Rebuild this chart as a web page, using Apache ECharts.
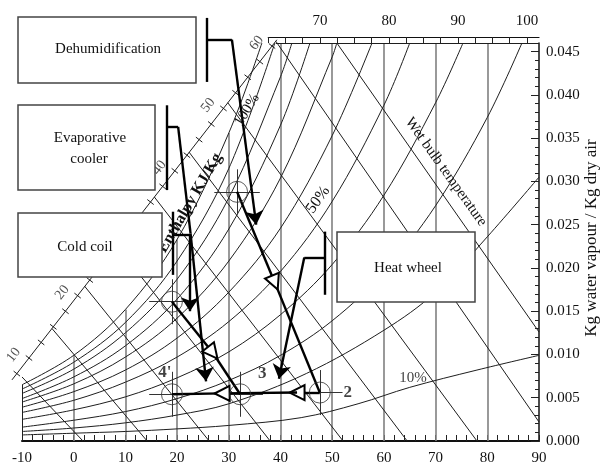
<!DOCTYPE html>
<html>
<head>
<meta charset="utf-8">
<script src="https://cdn.jsdelivr.net/npm/echarts@6/dist/echarts.min.js"></script>
<style>
  html, body { margin: 0; background: #fff; }
  #chart { width: 602px; height: 469px; }
</style>
</head>
<body>
<div id="chart"></div>
<script>
// relative humidity curves, [dry bulb °C, kg water / kg dry air]
const rh100 = [[-10, 0.0065], [0, 0.0099], [10, 0.0152], [20, 0.0233], [30, 0.0356], [36.4, 0.046]];
const rh90 = [[-10, 0.0060], [0, 0.0091], [10, 0.0137], [20, 0.0208], [30, 0.0315], [38.9, 0.046]];
const rh80 = [[-10, 0.0055], [0, 0.0083], [10, 0.0125], [20, 0.0187], [30, 0.0281], [40, 0.0421], [42.2, 0.046]];
const rh70 = [[-10, 0.0049], [0, 0.0074], [10, 0.0110], [20, 0.0164], [30, 0.0245], [40, 0.0365], [45.7, 0.046]];
const rh60 = [[-10, 0.0045], [0, 0.0066], [10, 0.0097], [20, 0.0142], [30, 0.0208], [40, 0.0304], [50, 0.0444], [50.9, 0.046]];
const rh50 = [[-10, 0.0039], [0, 0.0057], [10, 0.0082], [20, 0.0119], [30, 0.0172], [40, 0.0246], [50, 0.0353], [57.7, 0.046]];
const rh40 = [[-10, 0.0033], [0, 0.0047], [10, 0.0068], [20, 0.0097], [30, 0.0138], [40, 0.0196], [50, 0.0277], [60, 0.0388], [65, 0.046]];
const rh30 = [[-10, 0.0025], [0, 0.0036], [10, 0.0051], [20, 0.0073], [30, 0.0103], [40, 0.0146], [50, 0.0204], [60, 0.0284], [70, 0.0391], [75.3, 0.046]];
const rh20 = [[-10, 0.0016], [0, 0.0024], [10, 0.0034], [20, 0.0049], [30, 0.0070], [40, 0.0099], [50, 0.0139], [60, 0.0195], [70, 0.0272], [80, 0.0374], [86.7, 0.046]];
const rh15 = [[-10, 0.0011], [0, 0.0015], [10, 0.0021], [20, 0.0030], [30, 0.0043], [45, 0.0078], [60, 0.0128], [70, 0.0172], [80, 0.0236], [90, 0.0305]];
const rh10 = [[-10, 0.0007], [0, 0.0009], [10, 0.0011], [20, 0.0014], [30, 0.0018], [44, 0.0027], [55, 0.0043], [65, 0.0062], [78, 0.0082], [90, 0.0099]];
const rhCurves = [rh100, rh90, rh80, rh70, rh60, rh50, rh40, rh30, rh20, rh15, rh10];

// dry bulb verticals and where they stop (saturation or top of chart)
const dryBulbLines = [0, 10, 20, 30, 40, 50, 60, 70, 80];
const dryBulbTops = [0.0099, 0.0152, 0.0233, 0.0356, 0.046, 0.046, 0.046, 0.046, 0.046];

// enthalpy / wet bulb diagonals: start and end points
const diagStarts = [[-10, 0.0074], [-4.2, 0.0130], [2.1, 0.0179], [8.3, 0.0226], [15.6, 0.0282], [22.3, 0.0334], [29.8, 0.0391], [39.1, 0.0462], [50.9, 0.046]];
const diagEnds = [[1.8, 0], [14.2, 0], [26.2, 0], [38.0, 0], [52.1, 0], [64.5, 0], [78.0, 0], [90, 0.0022], [90, 0.0126]];

// slanted enthalpy scale (kJ/kg)
const enthalpyLabels = [10, 20, 30, 40, 50, 60];
const enthalpyTicks = [7.5, 10, 12.5, 15, 17.5, 20, 22.5, 25, 27.5, 30, 32.5, 35, 37.5, 40, 42.5, 45, 47.5, 50, 52.5, 55, 57.5, 60];
const enthalpyAt10 = [-8.65, 0.00959];
const enthalpyAt60 = [38.36, 0.04565];
const enthalpyRange = [6.5, 61];

// state points
const stateNames = ['1', '5', "4'", '3', '2'];
const stateT = [31.6, 19.0, 19.0, 32.2, 47.6];
const stateW = [0.0288, 0.0161, 0.0054, 0.0054, 0.0056];
const stateShown = [false, false, true, true, true];
const stateLabelOffset = [[0, 0], [0, 0], [-7, -22], [22, -21], [28, 0]];

// process segments ending in a filled arrow
const arrowSegments = [
  [[30.6, 0.0464], [35.3, 0.0250]],   // dehumidification
  [[22.6, 0.0240], [25.6, 0.0069]],   // evaporative cooler
  [[22.5, 0.0238], [22.5, 0.0150]],   // cold coil
  [[44.6, 0.0212], [39.7, 0.0072]]    // heat wheel
];
// process segments ending in an open triangle
const openSegments = [
  [[31.6, 0.0288], [38.9, 0.0183]],
  [[47.6, 0.0056], [43.2, 0.0056]],
  [[43.2, 0.0056], [28.7, 0.0055]],
  [[19.0, 0.0161], [26.9, 0.0102]]
];
// plain thick segments
const plainSegments = [
  [[38.9, 0.0183], [47.6, 0.0056]],
  [[28.7, 0.0055], [19.0, 0.0054]],
  [[26.9, 0.0102], [32.2, 0.0054]],
  [[20.2, 0.0363], [22.6, 0.0240]],
  // brackets
  [[25.8, 0.0489], [25.8, 0.0415]], [[25.8, 0.0464], [30.6, 0.0464]],
  [[18.05, 0.0388], [18.05, 0.0290]], [[18.05, 0.0363], [20.2, 0.0363]],
  [[19.2, 0.0265], [19.2, 0.0192]], [[19.2, 0.0238], [22.5, 0.0238]],
  [[48.6, 0.0242], [48.6, 0.0169]], [[48.6, 0.0212], [44.6, 0.0212]]
];

const serif = '"Liberation Serif", "DejaVu Serif", serif';
const ink = '#1e1e1e';

function scalePoint(h) {
  const t = (h - 10) / 50;
  return [enthalpyAt10[0] + t * (enthalpyAt60[0] - enthalpyAt10[0]),
          enthalpyAt10[1] + t * (enthalpyAt60[1] - enthalpyAt10[1])];
}
const tickHalf = [0.62, -0.00029];

const series = [];

rhCurves.forEach(c => series.push({
  type: 'line', data: c, smooth: 0.35, showSymbol: false, silent: true,
  lineStyle: { color: ink, width: 1 }, z: 2
}));

series.push({
  type: 'lines', coordinateSystem: 'cartesian2d', silent: true, z: 1,
  lineStyle: { color: '#808080', width: 1.6, opacity: 1 },
  data: dryBulbLines.map((t, i) => ({ coords: [[t, 0], [t, dryBulbTops[i]]] }))
});

series.push({
  type: 'lines', coordinateSystem: 'cartesian2d', silent: true, z: 2, clip: false,
  lineStyle: { color: ink, width: 1, opacity: 1 },
  data: diagStarts.map((s, i) => ({ coords: [s, diagEnds[i]] }))
    .concat([
      { coords: [[39.1, 0.046], [90, 0.046]] },
      { coords: [[-10, 0], [-10, rh100[0][1]]] },
      { coords: [scalePoint(enthalpyRange[0]), scalePoint(enthalpyRange[1])] }
    ])
    .concat(enthalpyTicks.map(h => {
      const p = scalePoint(h);
      return { coords: [[p[0] - tickHalf[0], p[1] - tickHalf[1]], [p[0] + tickHalf[0], p[1] + tickHalf[1]]] };
    }))
});

series.push({
  type: 'scatter', symbolSize: 0, silent: true, z: 3,
  data: enthalpyLabels.map(h => scalePoint(h)),
  label: {
    show: true, position: 'inside', offset: [-7, -14], rotate: 52,
    formatter: p => enthalpyLabels[p.dataIndex],
    fontFamily: serif, fontSize: 14, color: ink
  }
});

// thin cross hairs at state points
series.push({
  type: 'lines', coordinateSystem: 'cartesian2d', silent: true, z: 4,
  lineStyle: { color: '#333', width: 1, opacity: 1 },
  data: stateT.flatMap((t, i) => [
    { coords: [[t - 4.4, stateW[i]], [t + 4.4, stateW[i]]] },
    { coords: [[t, stateW[i] - 0.0026], [t, stateW[i] + 0.0026]] }
  ])
});

series.push({
  type: 'scatter', silent: true, z: 6,
  symbol: 'circle', symbolSize: 21,
  itemStyle: { color: 'rgba(0,0,0,0)', borderColor: '#333', borderWidth: 1 },
  data: stateT.map((t, i) => [t, stateW[i]]),
  label: {
    show: true, position: 'inside',
    formatter: p => stateShown[p.dataIndex] ? stateNames[p.dataIndex] : '',
    fontFamily: serif, fontSize: 17, fontWeight: 'bold', color: '#111'
  },
  labelLayout: p => ({ dx: stateLabelOffset[p.dataIndex][0], dy: stateLabelOffset[p.dataIndex][1] })
});

const thick = { color: '#000', width: 2.4, opacity: 1 };
series.push({
  type: 'lines', coordinateSystem: 'cartesian2d', silent: true, z: 5, clip: false,
  symbol: ['none', 'none'], lineStyle: thick,
  data: plainSegments.map(c => ({ coords: c }))
});
series.push({
  type: 'lines', coordinateSystem: 'cartesian2d', silent: true, z: 5, clip: false,
  symbol: ['none', 'arrow'], symbolSize: [0, 14], lineStyle: thick,
  data: arrowSegments.map(c => ({ coords: c }))
});
series.push({
  type: 'lines', coordinateSystem: 'cartesian2d', silent: true, z: 5, clip: false,
  symbol: ['none', 'emptyTriangle'], symbolSize: [0, 15], lineStyle: thick,
  data: openSegments.map(c => ({ coords: c }))
});

function box(x, y, w, h) {
  return { type: 'rect', shape: { x, y, width: w, height: h }, z: 100,
           style: { fill: '#fff', stroke: '#444', lineWidth: 1.5 } };
}
function label(text, x, y, opts = {}) {
  return { type: 'text', x, y, rotation: opts.rot || 0, z: 101,
           style: { text, fill: opts.color || '#111', align: 'center', verticalAlign: 'middle',
                    font: (opts.weight || 'normal') + ' ' + (opts.size || 15) + 'px ' + serif } };
}

const option = {
  animation: false,
  backgroundColor: '#fff',
  grid: [
    { left: 22, right: 63, top: 43, bottom: 28, outerBoundsMode: 'none' },
    { left: 268.25, right: 63, top: 37, height: 6, outerBoundsMode: 'none' }
  ],
  xAxis: [
    {
      type: 'value', min: -10, max: 90, interval: 10,
      axisLine: { show: true, onZero: false, lineStyle: { color: '#111', width: 2 } },
      axisTick: { show: true, inside: true, length: 6, lineStyle: { color: '#222' } },
      minorTick: { show: true, splitNumber: 5, length: 6, lineStyle: { color: '#222' } },
      splitLine: { show: false },
      axisLabel: { fontFamily: serif, fontSize: 15, color: '#111', margin: 10 }
    },
    {
      type: 'value', gridIndex: 1, position: 'top', min: 62.5, max: 101.74, interval: 2.5,
      axisLine: { show: true, onZero: false, lineStyle: { color: '#111', width: 1.2 } },
      axisTick: { show: true, inside: true, length: 6, lineStyle: { color: '#222' } },
      splitLine: { show: false },
      axisLabel: { fontFamily: serif, fontSize: 15, color: '#111', margin: 8,
                   showMaxLabel: false,
                   formatter: v => (Math.abs(v % 10) < 1e-6 ? String(v) : '') }
    }
  ],
  yAxis: [
    {
      type: 'value', position: 'right', min: 0, max: 0.046, interval: 0.005,
      axisLine: { show: true, onZero: false, lineStyle: { color: '#111', width: 1.5 } },
      axisTick: { show: true, inside: true, length: 8, lineStyle: { color: '#222' } },
      minorTick: { show: true, splitNumber: 5, length: 4, lineStyle: { color: '#222' } },
      splitLine: { show: false },
      axisLabel: { fontFamily: serif, fontSize: 15, color: '#111', margin: 7, showMaxLabel: false,
                   formatter: v => v.toFixed(3) }
    },
    { type: 'value', gridIndex: 1, show: false, min: 0, max: 1 }
  ],
  series,
  graphic: [
    box(18, 17, 178, 66), label('Dehumidification', 108, 49),
    box(18, 105, 137, 85), label('Evaporative', 90, 138), label('cooler', 89, 159),
    box(18, 213, 144, 64), label('Cold coil', 85, 247),
    box(337, 232, 138, 70), label('Heat wheel', 408, 268),
    label('100%', 247, 110, { rot: 1.03 }),
    label('50%', 318, 200, { rot: 0.95, size: 16 }),
    label('10%', 413, 378, { color: '#444' }),
    label('Wet bulb temperature', 446, 172, { rot: -0.95 }),
    Object.assign(label('Enthalpy KJ/Kg', 190, 203, { rot: 1.04, weight: 'bold', size: 16 }), { z: 99 }),
    label('Kg water vapour / Kg dry air', 592, 238, { rot: Math.PI / 2, size: 17 })
  ]
};

const chart = echarts.init(document.getElementById('chart'));
chart.setOption(option);
</script>
</body>
</html>
